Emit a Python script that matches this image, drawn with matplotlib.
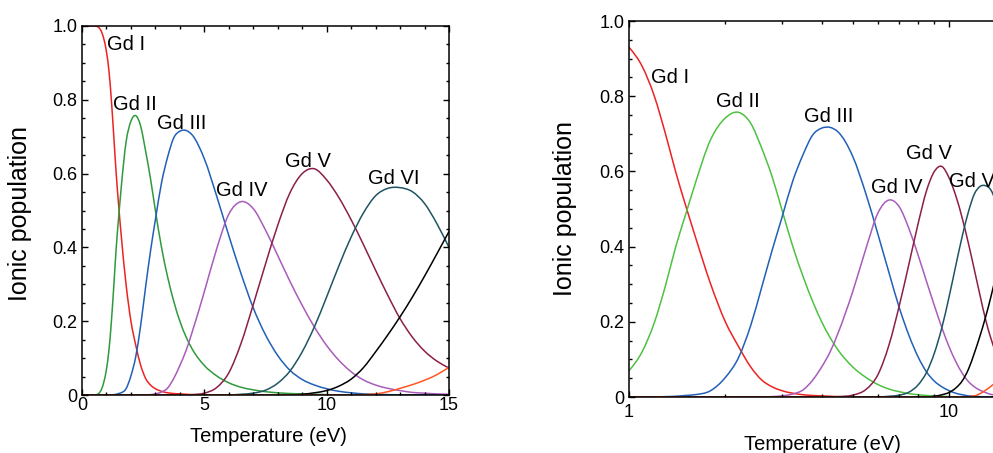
import matplotlib
matplotlib.use('Agg')
import matplotlib.pyplot as plt
import numpy as np
from matplotlib.path import Path
from matplotlib.patches import PathPatch
from matplotlib.ticker import MultipleLocator, LogLocator, NullFormatter

plt.rcParams['font.family'] = ['Liberation Sans', 'DejaVu Sans']

# ── data (temperature in eV, ionic population) ─────────────────────────────
temp = [0, 0.25, 0.5, 0.6, 0.7, 0.8, 0.9,
        1.0, 1.1, 1.2, 1.3, 1.4, 1.5, 1.6,
        1.8, 2.0, 2.2, 2.4, 2.6, 2.8, 3.0,
        3.25, 3.5, 3.75, 4.0, 4.25, 4.5,
        5.0, 5.5, 6.0, 6.5, 7.0, 7.5, 8.0, 8.5, 9.0, 9.5, 10.0,
        10.5, 11.0, 11.5, 12.0, 12.5, 13.0, 13.5, 14.0, 14.5, 15.0]

gd1 = ([1.0, 1.0, 1.0, 0.999, 0.995, 0.984, 0.963,
        0.930, 0.879, 0.800, 0.700, 0.598, 0.512, 0.435,
        0.300, 0.200, 0.134, 0.080, 0.045, 0.027, 0.017,
        0.010, 0.006, 0.004, 0.003, 0.002, 0.001]
       + [0.0] * 21)

gd2 = ([0.0, 0.0, 0.0, 0.001, 0.005, 0.016, 0.037,
        0.070, 0.121, 0.198, 0.296, 0.400, 0.483, 0.560,
        0.685, 0.742, 0.757, 0.728, 0.661, 0.586, 0.500,
        0.400, 0.320, 0.254, 0.200, 0.158, 0.125,
        0.080, 0.052, 0.033, 0.021, 0.014, 0.009, 0.006, 0.004, 0.003, 0.002, 0.001]
       + [0.0] * 10)

gd3 = ([0.0] * 7
       + [0.0, 0.0, 0.0, 0.001, 0.002, 0.004, 0.006,
          0.017, 0.052, 0.105, 0.190, 0.293, 0.390, 0.475,
          0.575, 0.645, 0.697, 0.715, 0.717, 0.705,
          0.640, 0.540, 0.432, 0.329, 0.236, 0.163, 0.107, 0.067, 0.042, 0.027, 0.017,
          0.010, 0.006, 0.003, 0.002, 0.001, 0.0, 0.0, 0.0, 0.0, 0.0])

gd4 = ([0.0] * 14
       + [0.0, 0.0, 0.0, 0.0, 0.0, 0.001, 0.003,
          0.008, 0.019, 0.045, 0.080, 0.120, 0.170,
          0.280, 0.395, 0.490, 0.524, 0.505, 0.447, 0.378, 0.308, 0.243, 0.184, 0.134,
          0.094, 0.063, 0.041, 0.027, 0.018, 0.012, 0.007, 0.005, 0.003, 0.002])

gd5 = ([0.0] * 21
       + [0.0, 0.0, 0.0, 0.0, 0.0, 0.001,
          0.005, 0.020, 0.060, 0.140, 0.245, 0.355, 0.460, 0.548, 0.600, 0.613, 0.583,
          0.535, 0.475, 0.408, 0.338, 0.270, 0.207, 0.157, 0.119, 0.092, 0.073])

gd6 = ([0.0] * 27
       + [0.0, 0.0, 0.0, 0.002, 0.005, 0.013, 0.032, 0.065, 0.117, 0.185, 0.266,
          0.350, 0.428, 0.493, 0.540, 0.560, 0.562, 0.551, 0.519, 0.465, 0.400])

gd7 = ([0.0] * 27
       + [0.0, 0.0, 0.0, 0.0, 0.0, 0.0, 0.0, 0.0, 0.002, 0.006, 0.012,
          0.024, 0.043, 0.074, 0.117, 0.163, 0.212, 0.265, 0.322, 0.382, 0.443])

gd8 = ([0.0] * 27
       + [0.0, 0.0, 0.0, 0.0, 0.0, 0.0, 0.0, 0.0, 0.0, 0.0, 0.0,
          0.0, 0.0, 0.001, 0.003, 0.009, 0.018, 0.028, 0.040, 0.055, 0.075])

series = [gd1, gd2, gd3, gd4, gd5, gd6, gd7, gd8]
ion_labels = ['Gd I', 'Gd II', 'Gd III', 'Gd IV', 'Gd V', 'Gd VI']

ytick_vals = [0, 0.2, 0.4, 0.6, 0.8, 1.0]
ytick_labels = ['0', '0.2', '0.4', '0.6', '0.8', '1.0']
xtick_lin = [0, 5, 10, 15]
xtick_log = [1, 10]

# colours: the green is darker on the linear panel
colors_lin = ['#ee2222', '#2f9a3c', '#2160b8', '#a95cbb', '#8c1f4a', '#1f5562', '#000000', '#ff5522']
colors_log = ['#ee2222', '#4fc142', '#2160b8', '#a95cbb', '#8c1f4a', '#1f5562', '#000000', '#ff5522']

# label anchor (temperature, population), left/baseline
lab_lin = [(1.03, 0.935), (1.28, 0.772), (3.08, 0.721), (5.48, 0.539), (8.30, 0.618), (11.7, 0.572)]
lab_log = [(1.171, 0.834), (1.87, 0.772), (3.53, 0.732), (5.69, 0.543), (7.32, 0.633), (9.97, 0.559)]


def smooth_path(u, y):
    """Cubic Bezier path through the read points (three-point slopes), in axis space u."""
    u = np.asarray(u, float)
    y = np.asarray(y, float)
    h = np.diff(u)
    d = np.diff(y) / h
    m = np.zeros_like(y)
    m[0], m[-1] = d[0], d[-1]
    m[1:-1] = (d[:-1] * h[1:] + d[1:] * h[:-1]) / (h[:-1] + h[1:])
    verts = [(u[0], y[0])]
    codes = [Path.MOVETO]
    for k in range(len(y) - 1):
        verts += [(u[k] + h[k] / 3, y[k] + m[k] * h[k] / 3),
                  (u[k + 1] - h[k] / 3, y[k + 1] - m[k + 1] * h[k] / 3),
                  (u[k + 1], y[k + 1])]
        codes += [Path.CURVE4] * 3
    return np.array(verts), codes


t = np.array(temp)

fig = plt.figure(figsize=(9.93, 4.53), dpi=100)
W, H = 993, 453
ax1 = fig.add_axes([82 / W, 58 / H, 367 / W, 369 / H])
ax2 = fig.add_axes([629 / W, 56 / H, 376.4 / W, 376 / H])

# ── linear panel ────────────────────────────────────────────────────────────
for y, c in zip(series, colors_lin):
    verts, codes = smooth_path(t, y)
    ax1.add_patch(PathPatch(Path(verts, codes), fill=False, edgecolor=c, lw=1.1))
ax1.set_xlim(0, 15)
ax1.set_ylim(0, 1)
ax1.set_xticks(xtick_lin)
ax1.set_xticklabels([str(v) for v in xtick_lin])
ax1.xaxis.set_minor_locator(MultipleLocator(1))
for (x, y), s in zip(lab_lin, ion_labels):
    ax1.text(x, y, s, fontsize=14.5, ha='left', va='baseline')
ax1.set_xlabel('Temperature (eV)', fontsize=14.5)
ax1.xaxis.set_label_coords(0.507, -0.087)
ax1.tick_params(axis='x', which='major', pad=1.5)

# ── log panel (curves smoothed in log10 T, mapped back to T) ───────────────
ax2.set_xscale('log')
m = t > 0
for y, c in zip(series, colors_log):
    verts, codes = smooth_path(np.log10(t[m]), np.array(y)[m])
    verts[:, 0] = 10 ** verts[:, 0]
    ax2.add_patch(PathPatch(Path(verts, codes), fill=False, edgecolor=c, lw=1.1))
ax2.set_xlim(1, 15)
ax2.set_ylim(0, 1)
ax2.set_xticks(xtick_log)
ax2.set_xticklabels([str(v) for v in xtick_log])
ax2.xaxis.set_minor_locator(LogLocator(base=10, subs=np.arange(2, 10)))
ax2.xaxis.set_minor_formatter(NullFormatter())
for (x, y), s in zip(lab_log, ion_labels):
    ax2.text(x, y, s, fontsize=14.5, ha='left', va='baseline')
ax2.set_xlabel('Temperature (eV)', fontsize=14.5)
ax2.xaxis.set_label_coords(0.513, -0.101)
ax2.tick_params(axis='x', which='major', pad=5)

for ax in (ax1, ax2):
    ax.set_yticks(ytick_vals)
    ax.set_yticklabels(ytick_labels)
    ax.yaxis.set_minor_locator(MultipleLocator(0.05))
    ax.set_ylabel('Ionic population', fontsize=18)
    ax.tick_params(which='both', direction='in', top=True, right=True,
                   labelsize=13, width=1.0, color='black')
    ax.tick_params(which='major', length=4)
    ax.tick_params(which='minor', length=2.5)
    for sp in ax.spines.values():
        sp.set_linewidth(1.1)

ax1.yaxis.set_label_coords(-0.136, 0.493)
ax2.yaxis.set_label_coords(-0.138, 0.5)

fig.savefig('out.png', dpi=100)
